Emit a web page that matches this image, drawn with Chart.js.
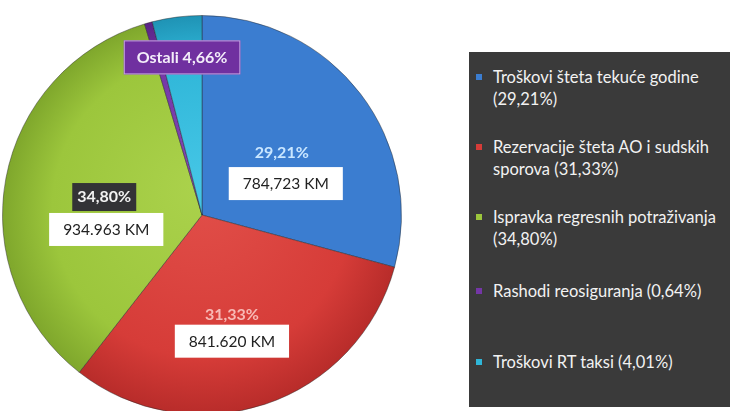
<!DOCTYPE html>
<html>
<head>
<meta charset="utf-8">
<script src="https://cdn.jsdelivr.net/npm/chart.js@4.4.1/dist/chart.umd.min.js"></script>
<style>
  html, body { margin: 0; padding: 0; background: #fff; overflow: hidden; }
  body { width: 730px; height: 411px; position: relative; font-family: Lato, "Open Sans", sans-serif; }
  #pieWrap { position: absolute; left: 0; top: 0; width: 404px; height: 432px; }
  #legend {
    position: absolute; left: 469px; top: 52px; width: 270px; height: 355px;
    background: #3a3a3a; color: #f2f2f2; font-size: 16.5px; line-height: 22px;
  }
  .item { position: absolute; left: 7px; padding-left: 17px; white-space: nowrap; }
  .item i { position: absolute; left: 0; top: 8px; width: 6px; height: 6px; }
</style>
</head>
<body>
<div id="pieWrap"><canvas id="myChart"></canvas></div>
<div id="legend"></div>
<script>
// slices, clockwise from 12 o'clock
const categories = [
  'Troškovi šteta tekuće godine',
  'Rezervacije šteta AO i sudskih sporova',
  'Ispravka regresnih potraživanja',
  'Rashodi reosiguranja',
  'Troškovi RT taksi'
];
const shares = [29.21, 31.33, 34.80, 0.64, 4.01];
const shareText = ['29,21%', '31,33%', '34,80%', '0,64%', '4,01%'];
const amountText = ['784,723 KM', '841.620 KM', '934.963 KM', null, null];
const othersText = 'Ostali 4,66%';

const legendLines = [
  ['Troškovi šteta tekuće godine', '(29,21%)'],
  ['Rezervacije šteta AO i sudskih', 'sporova (31,33%)'],
  ['Ispravka regresnih potraživanja', '(34,80%)'],
  ['Rashodi reosiguranja (0,64%)'],
  ['Troškovi RT taksi (4,01%)']
];
const legendTops = [14, 84, 154, 228, 299];

const baseColors = ['#3b7dd0', '#d63c38', '#9cc63c', '#7436a6', '#2fb6d8'];
const edgeColors = ['#2a5fae', '#b82c2a', '#7fa72c', '#5a2485', '#1f93b5'];
const lightColors = ['#4d8ede', '#e2504a', '#abd24c', '#8447b5', '#45c6e6'];

const radialFill = (ctx) => {
  const chart = ctx.chart;
  const i = ctx.dataIndex;
  const arc = chart.getDatasetMeta(0).data[0];
  if (!arc || !arc.outerRadius) return baseColors[i];
  const g = chart.ctx.createRadialGradient(arc.x, arc.y - 30, 0, arc.x, arc.y, arc.outerRadius);
  g.addColorStop(0, lightColors[i]);
  g.addColorStop(0.75, baseColors[i]);
  g.addColorStop(1, edgeColors[i]);
  return g;
};

// label groups: where they sit, in fractions of the radius from the centre
const labelPos = [
  { pct: [0.40, -0.31], box: [0.42, -0.16] },
  { pct: [0.15, 0.50], box: [0.15, 0.63] },
  { pct: [-0.49, -0.09], box: [-0.48, 0.07] }
];
const othersPos = [-0.10, -0.79];

const boxLabels = {
  id: 'boxLabels',
  afterDatasetsDraw(chart) {
    const c = chart.ctx;
    const arc = chart.getDatasetMeta(0).data[0];
    const cx = arc.x, cy = arc.y, r = arc.outerRadius;
    c.save();
    c.textAlign = 'center';
    c.textBaseline = 'middle';
    labelPos.forEach((p, i) => {
      // amount box
      const bx = cx + p.box[0] * r, by = cy + p.box[1] * r;
      c.font = '15.5px Lato, "Open Sans", sans-serif';
      const w = c.measureText(amountText[i]).width + 28;
      c.fillStyle = '#fff';
      c.fillRect(bx - w / 2, by - 16, w, 33);
      c.fillStyle = '#222';
      c.fillText(amountText[i], bx, by + 1);
      // percentage
      const px = cx + p.pct[0] * r, py = cy + p.pct[1] * r;
      c.font = 'bold 16px Lato, "Open Sans", sans-serif';
      if (i === 2) {
        const pw = c.measureText(shareText[i]).width + 10;
        c.fillStyle = '#333336';
        c.fillRect(px - pw / 2, py - 14, pw, 28);
        c.fillStyle = '#f2f2f2';
      } else {
        c.fillStyle = i === 0 ? '#c9e6ff' : '#f7b9b5';
      }
      c.fillText(shareText[i], px, py);
    });
    // "Ostali" box
    const ox = cx + othersPos[0] * r, oy = cy + othersPos[1] * r;
    c.font = 'bold 16px Lato, "Open Sans", sans-serif';
    const ow = c.measureText(othersText).width + 26;
    c.fillStyle = '#7030a0';
    c.fillRect(ox - ow / 2, oy - 17, ow, 34);
    c.strokeStyle = '#c6a2e2';
    c.lineWidth = 1;
    c.strokeRect(ox - ow / 2 + 0.5, oy - 16.5, ow - 1, 33);
    c.fillStyle = '#f4eefa';
    c.fillText(othersText, ox, oy);
    c.restore();
  }
};

const ctx = document.getElementById('myChart');

const piechart = new Chart(ctx, {
  type: 'pie',
  data: {
    labels: categories,
    datasets: [{
      data: shares,
      backgroundColor: radialFill,
      borderColor: 'rgba(40,40,40,0.45)',
      borderWidth: 1
    }]
  },
  options: {
    responsive: true,
    maintainAspectRatio: false,
    animation: false,
    layout: { padding: { top: 15, bottom: 17, left: 0, right: 0 } },
    plugins: {
      legend: { display: false },
      tooltip: { enabled: false }
    }
  },
  plugins: [boxLabels]
});

// legend on the right, built from the same arrays
const legendEl = document.getElementById('legend');
legendLines.forEach((lines, i) => {
  const d = document.createElement('div');
  d.className = 'item';
  d.style.top = legendTops[i] + 'px';
  d.innerHTML = '<i style="background:' + baseColors[i] + '"></i>' + lines.join('<br>');
  legendEl.appendChild(d);
});
</script>
</body>
</html>
